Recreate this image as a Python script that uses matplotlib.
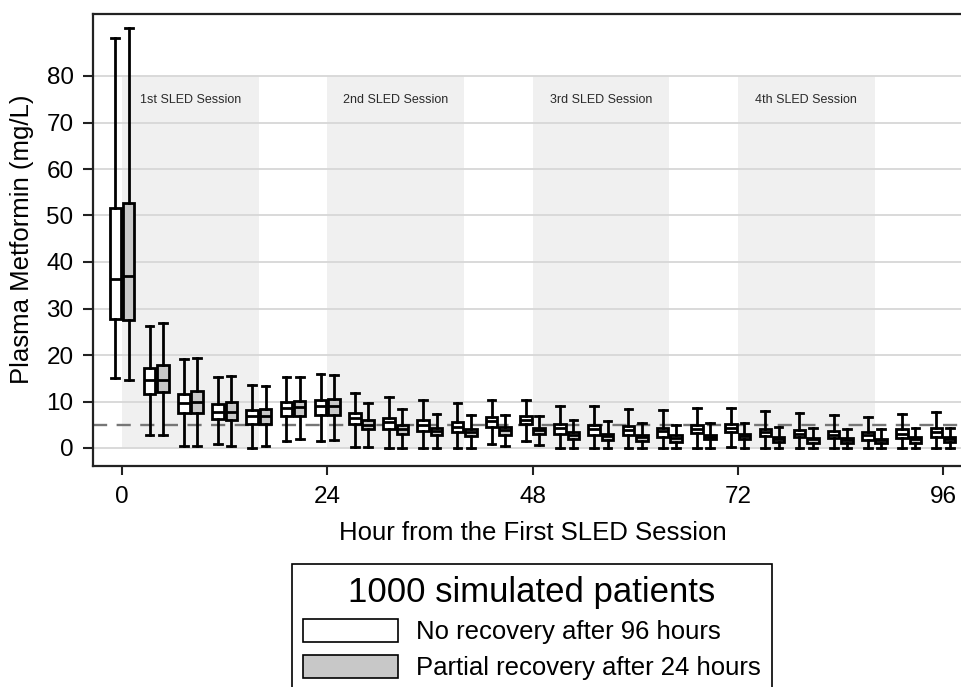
import matplotlib
matplotlib.use('Agg')
import matplotlib.pyplot as plt
from matplotlib.patches import Patch

plt.rcParams['font.family'] = ['Liberation Sans', 'DejaVu Sans']

# ---------------- data ----------------
hours = [0, 4, 8, 12, 16, 20, 24, 28, 32, 36, 40, 44, 48,
         52, 56, 60, 64, 68, 72, 76, 80, 84, 88, 92, 96]

# No recovery after 96 hours
no_whishi = [88.1, 26.3, 19.1, 15.2, 13.5, 15.3, 15.9, 11.9, 11.0, 10.3, 9.6, 10.4, 10.4,
             9.1, 9.0, 8.3, 8.1, 8.6, 8.5, 7.9, 7.6, 7.1, 6.7, 7.4, 7.7]
no_q3 = [51.6, 17.3, 11.7, 9.5, 8.1, 9.8, 10.4, 7.6, 6.5, 6.0, 5.6, 6.6, 6.9,
         5.1, 4.9, 4.7, 4.4, 4.9, 5.1, 4.1, 3.9, 3.6, 3.4, 4.0, 4.2]
no_med = [36.3, 14.6, 9.7, 7.7, 6.8, 8.5, 9.0, 6.5, 5.6, 4.9, 4.6, 5.8, 6.1,
          4.2, 4.0, 3.9, 3.7, 4.0, 4.4, 3.5, 3.1, 2.9, 2.7, 3.1, 3.5]
no_q1 = [27.8, 11.7, 7.5, 6.2, 5.2, 6.8, 7.2, 5.1, 4.1, 3.6, 3.4, 4.6, 5.1,
         3.1, 2.7, 2.7, 2.4, 3.3, 3.4, 2.6, 2.3, 2.1, 1.7, 2.2, 2.4]
no_whislo = [15.0, 2.9, 0.5, 0.8, 0.1, 1.4, 1.6, 0.3, 0.0, 0.0, 0.0, 0.8, 1.4,
             0.0, 0.0, 0.0, 0.0, 0.0, 0.2, 0.0, 0.0, 0.0, 0.0, 0.0, 0.0]

# Partial recovery after 24 hours
pr_whishi = [90.3, 26.8, 19.4, 15.5, 13.3, 15.2, 15.8, 9.6, 8.3, 7.4, 7.1, 7.1, 6.9,
             6.1, 5.7, 5.3, 5.0, 5.3, 5.3, 4.5, 4.2, 4.0, 4.0, 4.2, 4.4]
pr_q3 = [52.6, 17.8, 12.3, 9.8, 8.4, 10.2, 10.6, 6.0, 4.9, 4.3, 4.1, 4.5, 4.4,
         3.4, 3.1, 2.9, 2.7, 2.9, 3.1, 2.4, 2.2, 2.2, 2.0, 2.4, 2.4]
pr_med = [36.9, 14.7, 9.8, 7.8, 6.8, 8.8, 9.0, 4.9, 4.0, 3.6, 3.4, 3.8, 3.8,
          2.9, 2.5, 2.4, 2.1, 2.4, 2.5, 2.0, 1.9, 1.8, 1.7, 1.9, 2.0]
pr_q1 = [27.6, 12.0, 7.5, 6.0, 5.2, 6.9, 7.2, 4.0, 3.0, 2.7, 2.5, 2.9, 3.0,
         2.0, 1.7, 1.6, 1.3, 1.9, 1.9, 1.3, 1.1, 1.1, 1.0, 1.1, 1.3]
pr_whislo = [14.6, 2.9, 0.5, 0.4, 0.5, 1.9, 1.8, 0.3, 0.0, 0.0, 0.0, 0.4, 0.6,
             0.0, 0.0, 0.0, 0.0, 0.0, 0.0, 0.0, 0.0, 0.0, 0.0, 0.0, 0.0]

session_starts = [0, 24, 48, 72]
session_length = 16
session_labels = ['1st SLED Session', '2nd SLED Session', '3rd SLED Session', '4th SLED Session']
threshold = 5

series_labels = ['No recovery after 96 hours', 'Partial recovery after 24 hours']
legend_title = '1000 simulated patients'
x_ticks = [0, 24, 48, 72, 96]
y_ticks = [0, 10, 20, 30, 40, 50, 60, 70, 80]


def make_stats(lo, q1, med, q3, hi):
    return [dict(whislo=a, q1=b, med=c, q3=d, whishi=e, fliers=[])
            for a, b, c, d, e in zip(lo, q1, med, q3, hi)]


# ---------------- figure ----------------
W, H = 961, 687
fig = plt.figure(figsize=(W / 100, H / 100), dpi=100)
ax_left, ax_right, ax_top, ax_bottom = 93, 961, 13.5, 465.5
ax = fig.add_axes([ax_left / W, 1 - ax_bottom / H, (ax_right - ax_left) / W, (ax_bottom - ax_top) / H])

# shaded sessions
for s, lab in zip(session_starts, session_labels):
    ax.fill_between([s, s + session_length], 0, 80, color='#f0f0f0', lw=0, zorder=0.1)
    ax.text(s + session_length / 2, 74.8, lab, ha='center', va='center',
            fontsize=9, color='#2a2a2a', zorder=1)

ax.set_axisbelow(True)
ax.yaxis.grid(True, color='#d9d9d9', lw=1.4)
ax.xaxis.grid(False)

ax.axhline(threshold, color='#767676', lw=1.7, ls=(0, (6, 4)), zorder=1.5)

bw = 1.35
off = 0.78
lw = 2.0
common = dict(widths=bw, patch_artist=True, showfliers=False, manage_ticks=False,
              capwidths=0.9, zorder=3,
              medianprops=dict(color='black', lw=lw),
              whiskerprops=dict(color='black', lw=lw),
              capprops=dict(color='black', lw=lw))

ax.bxp(make_stats(no_whislo, no_q1, no_med, no_q3, no_whishi),
       positions=[h - off for h in hours],
       boxprops=dict(facecolor='white', edgecolor='black', lw=lw), **common)
ax.bxp(make_stats(pr_whislo, pr_q1, pr_med, pr_q3, pr_whishi),
       positions=[h + off for h in hours],
       boxprops=dict(facecolor='#c8c8c8', edgecolor='black', lw=lw), **common)

px_per_h = (943 - 122) / 96
ax.set_xlim((ax_left - 122) / px_per_h, (ax_right - 122) / px_per_h)
px_per_u = (448 - 76) / 80
ax.set_ylim((448 - ax_bottom) / px_per_u, (448 - ax_top) / px_per_u)

ax.set_xticks(x_ticks)
ax.set_yticks(y_ticks)
ax.tick_params(axis='both', labelsize=17.5, width=1.5, direction='out', color='#222222')
ax.tick_params(axis='x', pad=8.5, length=6.5)
ax.tick_params(axis='y', pad=6.5, length=7.5)

for side in ['left', 'bottom', 'top']:
    ax.spines[side].set_linewidth(1.6)
    ax.spines[side].set_color('#222222')
ax.spines['right'].set_visible(False)

ax.set_ylabel('Plasma Metformin (mg/L)', fontsize=18.5)
ax.yaxis.set_label_coords(-0.068, 0.5)
ax.set_xlabel('Hour from the First SLED Session', fontsize=18.5)
ax.xaxis.set_label_coords(0.507, -0.122)
ax.xaxis.label.set_va('top')

handles = [Patch(facecolor='white', edgecolor='black', lw=1.2, label=series_labels[0]),
           Patch(facecolor='#c8c8c8', edgecolor='black', lw=1.2, label=series_labels[1])]
leg = fig.legend(handles=handles, title=legend_title, title_fontsize=25, fontsize=18.5,
                 loc='upper center', bbox_to_anchor=(532 / W, 1 - 564 / H),
                 frameon=True, fancybox=False, edgecolor='black', framealpha=1,
                 borderpad=0.45, handlelength=3.7, handleheight=0.97, handletextpad=0.7,
                 labelspacing=0.42, borderaxespad=0)
leg.get_frame().set_linewidth(1.2)

fig.savefig('out.png', dpi=100)
